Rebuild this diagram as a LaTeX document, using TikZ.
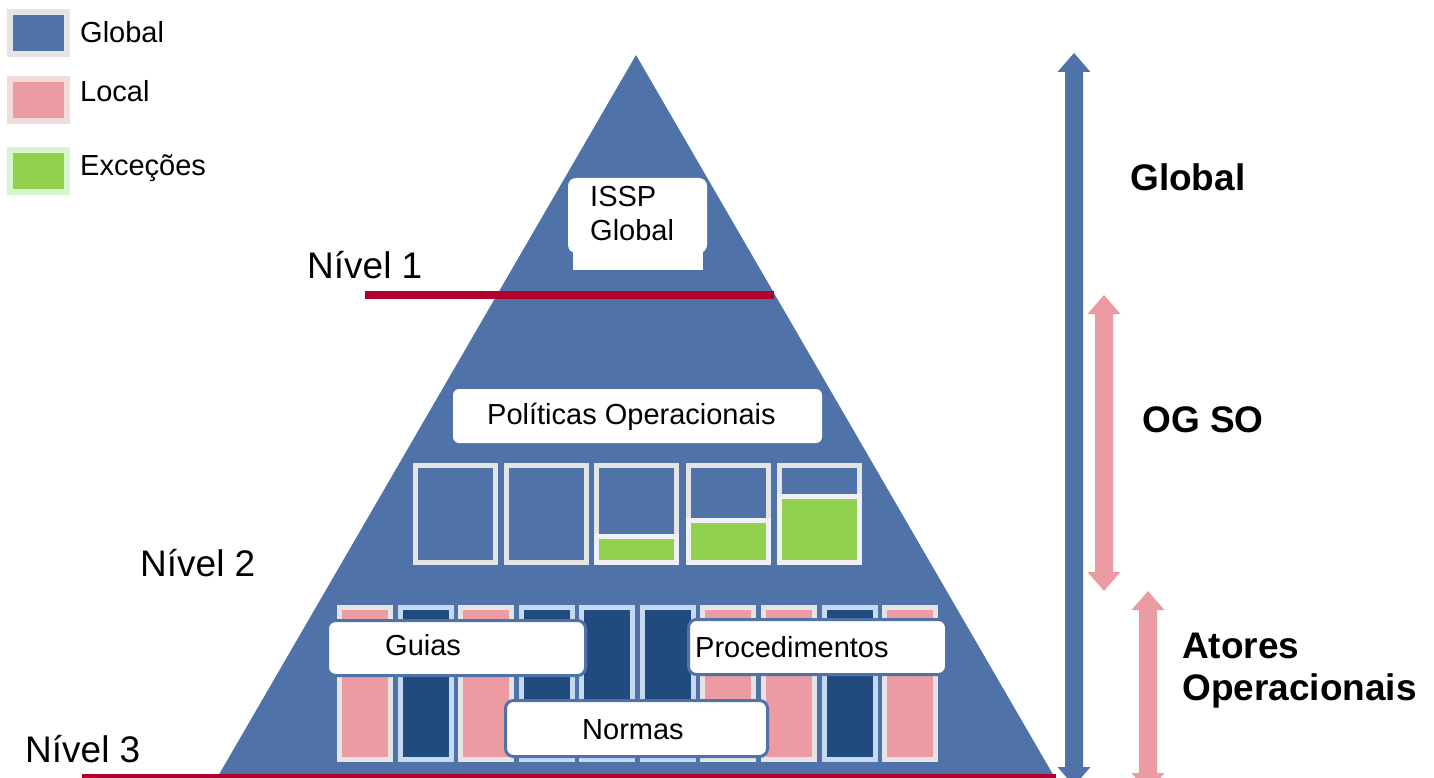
\documentclass[tikz,border=0pt]{standalone}
\usepackage{fontspec}
\setmainfont{Liberation Sans}
\definecolor{gblue}{RGB}{79,115,168}
\definecolor{dblue}{RGB}{33,74,126}
\definecolor{lblue}{RGB}{197,217,241}
\definecolor{pinkc}{RGB}{236,155,162}
\definecolor{grayb}{RGB}{228,228,228}
\definecolor{greenc}{RGB}{146,208,80}
\definecolor{lav}{RGB}{240,240,248}
\definecolor{redl}{RGB}{176,0,46}
\definecolor{legpink}{RGB}{242,220,219}
\definecolor{leggreen}{RGB}{214,245,206}
% double-headed block arrow: x, top y, bottom y, colour
\newcommand\blockarrow[4]{%
  \fill[#4] (#1-9,#2+19) -- (#1-16.5,#2+19) -- (#1,#2) -- (#1+16.5,#2+19)
    -- (#1+9,#2+19) -- (#1+9,#3-19) -- (#1+16.5,#3-19) -- (#1,#3)
    -- (#1-16.5,#3-19) -- (#1-9,#3-19) -- cycle;}
\begin{document}
\begin{tikzpicture}[x=1pt,y=-1pt,
  col/.style={minimum width=51pt, minimum height=152pt, line width=5pt, inner sep=0, draw},
  col-p/.style={col, fill=pinkc, draw=grayb},
  col-b/.style={col, fill=dblue, draw=lblue},
  mbox/.style={minimum width=80pt, minimum height=97pt, line width=5pt, draw=grayb, fill=gblue, inner sep=0},
  gbox/.style={minimum width=80pt, line width=5pt, draw=lav, fill=greenc, inner sep=0},
  wbox/.style={draw=gblue, line width=3pt, fill=white, rounded corners=8pt, inner sep=0},
  legbox/.style={minimum width=57pt, minimum height=42pt, line width=6pt, inner sep=0},
  txt/.style={inner sep=0, anchor=base west, font=\fontsize{29}{35}\selectfont},
  lvl/.style={inner sep=0, anchor=base west, font=\fontsize{37}{44}\selectfont},
  side/.style={inner sep=0, anchor=base west, font=\bfseries\fontsize{37}{44}\selectfont}]
\useasboundingbox (0,0) rectangle (1434,778);
\clip (0,0) rectangle (1434,778);

% legend
\node[legbox, draw=grayb, fill=gblue] (legG) at (38.5,33) {};
\node[legbox, draw=legpink, fill=pinkc] (legL) at (38.5,100) {};
\node[legbox, draw=leggreen, fill=greenc] (legE) at (38.5,171) {};
\node[txt] (legGt) at (80,43) {Global};
\node[txt] (legLt) at (80,102) {Local};
\node[txt] (legEt) at (80,176) {Exceções};

% pyramid
\fill[gblue] (636,55) -- (1062,790) -- (210,790) -- cycle;

% top level
\node[fill=white, minimum width=130pt, minimum height=30pt, inner sep=0] (isspbase) at (638,255) {};
\node[fill=white, rounded corners=8pt, minimum width=139pt, minimum height=75pt, inner sep=0] (issp) at (637.5,215.5) {};
\node[txt] (issp1) at (590,207) {ISSP};
\node[txt] (issp2) at (590,240) {Global};

% operational policies
\node[wbox, draw=none, rounded corners=6pt, minimum width=369pt, minimum height=54pt] (pol) at (637.5,416) {};
\node[txt] (polt) at (487,424) {Políticas Operacionais};

% policy blocks with exceptions
\node[mbox] (m1) at (455.5,514) {};
\node[mbox] (m2) at (546,514) {};
\node[mbox] (m3) at (636.5,514) {};
\node[mbox] (m4) at (728.5,514) {};
\node[mbox] (m5) at (819,514) {};
\node[gbox, minimum height=26pt] (e3) at (636.5,549.5) {};
\node[gbox, minimum height=42pt] (e4) at (728.5,541.5) {};
\node[gbox, minimum height=66pt] (e5) at (819,529.5) {};

% third level columns
\foreach \cx/\k [count=\i] in {365/p,426/b,486/p,547/b,607/b,668/b,728/p,789/p,850/b,910/p}
  \node[col-\k] (c\i) at (\cx,683.5) {};

\node[wbox, minimum width=258pt, minimum height=55pt] (guias) at (456.5,648) {};
\node[txt] (guiast) at (385,655) {Guias};
\node[wbox, minimum width=258pt, minimum height=55pt] (proc) at (817.5,647) {};
\node[txt] (proct) at (695,657) {Procedimentos};
\node[wbox, minimum width=262pt, minimum height=56pt] (normas) at (636.5,728.5) {};
\node[txt] (normast) at (582,739) {Normas};

% level lines
\fill[redl] (365,291) rectangle (774,299);
\fill[redl] (82,774) rectangle (1056,784);
\node[lvl] (n1) at (307,278) {Nível 1};
\node[lvl] (n2) at (140,576) {Nível 2};
\node[lvl] (n3) at (25,762) {Nível 3};

% scope arrows
\blockarrow{1074}{53}{786}{gblue}
\blockarrow{1104}{295}{591}{pinkc}
\blockarrow{1148}{591}{792}{pinkc}
\node[side] (sg) at (1130,191) {Global};
\node[side] (so) at (1142,432) {OG SO};
\node[side] (sa1) at (1182,658) {Atores};
\node[side] (sa2) at (1182,700) {Operacionais};
\end{tikzpicture}
\end{document}
